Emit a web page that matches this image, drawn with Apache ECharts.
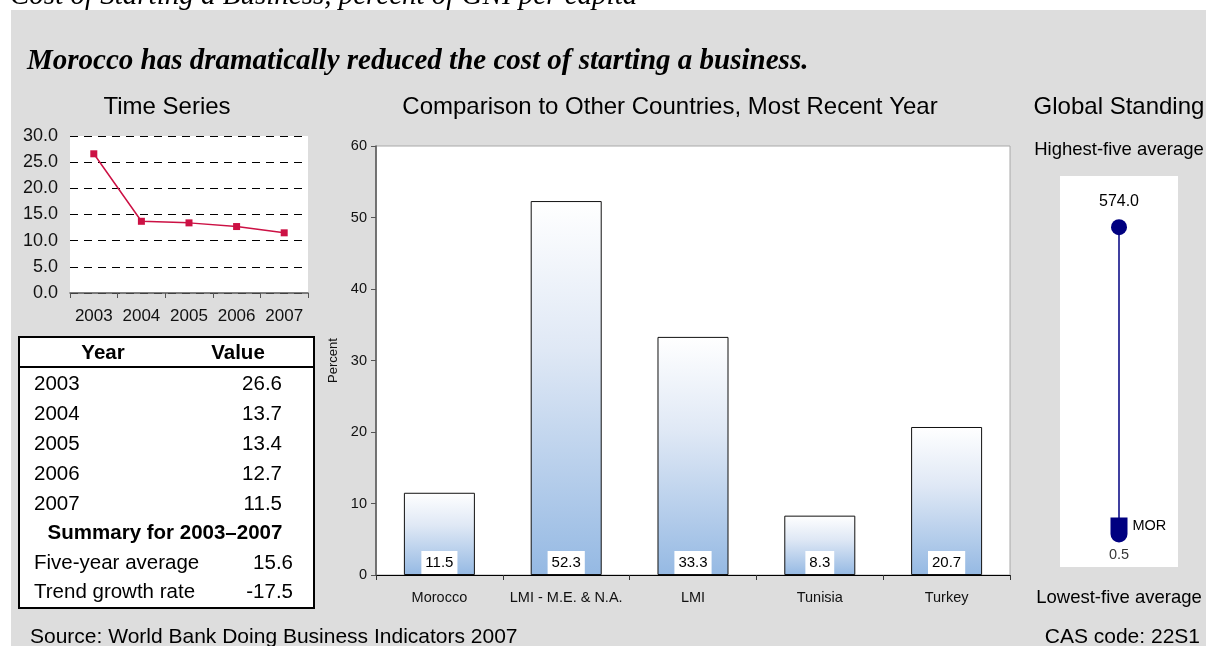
<!DOCTYPE html>
<html>
<head>
<meta charset="utf-8">
<script src="https://cdn.jsdelivr.net/npm/echarts@6/dist/echarts.min.js"></script>
<style>
  html, body { margin: 0; padding: 0; background: #ffffff; }
  #chart { width: 1206px; height: 646px; }
</style>
</head>
<body>
<div id="chart"></div>
<script>
// Time series: cost of starting a business, percent of GNI per capita
const years = ['2003', '2004', '2005', '2006', '2007'];
const costValues = [26.6, 13.7, 13.4, 12.7, 11.5];
const timeTicks = [0, 5, 10, 15, 20, 25, 30];

// Summary rows
const summaryLabels = ['Five-year average', 'Trend growth rate'];
const summaryValues = [15.6, -17.5];

// Comparison, most recent year
const countries = ['Morocco', 'LMI - M.E. & N.A.', 'LMI', 'Tunisia', 'Turkey'];
const countryValues = [11.5, 52.3, 33.3, 8.3, 20.7];

// Global standing
const highestFive = 574.0;
const lowestFive = 0.5;
const moroccoStanding = 11.5;
const moroccoCode = 'MOR';

const SANS = '"Liberation Sans", Arial, sans-serif';
const SERIF = '"Liberation Serif", "Times New Roman", serif';
const NAVY = '#000080';

const chart = echarts.init(document.getElementById('chart'));

// Table rows built from the arrays above
const tableGraphics = [];
const TF = '20.5px ' + SANS;
const TFB = 'bold 20.5px ' + SANS;
tableGraphics.push({ type: 'rect', shape: { x: 19, y: 337, width: 295, height: 271 },
  style: { fill: '#ffffff', stroke: '#000', lineWidth: 2 }, z: 10 });
tableGraphics.push({ type: 'line', shape: { x1: 19, y1: 367, x2: 314, y2: 367 },
  style: { stroke: '#000', lineWidth: 2 }, z: 11 });
tableGraphics.push({ type: 'text', x: 103, y: 353, z: 11,
  style: { text: 'Year', font: TFB, fill: '#000', align: 'center', verticalAlign: 'middle' } });
tableGraphics.push({ type: 'text', x: 238, y: 353, z: 11,
  style: { text: 'Value', font: TFB, fill: '#000', align: 'center', verticalAlign: 'middle' } });
years.forEach((yr, i) => {
  const y = 384 + i * 30;
  tableGraphics.push({ type: 'text', x: 34, y: y, z: 11,
    style: { text: yr, font: TF, fill: '#000', align: 'left', verticalAlign: 'middle' } });
  tableGraphics.push({ type: 'text', x: 282, y: y, z: 11,
    style: { text: costValues[i].toFixed(1), font: TF, fill: '#000', align: 'right', verticalAlign: 'middle' } });
});
tableGraphics.push({ type: 'text', x: 165, y: 533, z: 11,
  style: { text: 'Summary for ' + years[0] + '\u2013' + years[years.length - 1], font: TFB, fill: '#000', align: 'center', verticalAlign: 'middle' } });
summaryLabels.forEach((lab, i) => {
  const y = 563 + i * 29;
  tableGraphics.push({ type: 'text', x: 34, y: y, z: 11,
    style: { text: lab, font: TF, fill: '#000', align: 'left', verticalAlign: 'middle' } });
  tableGraphics.push({ type: 'text', x: 293, y: y, z: 11,
    style: { text: summaryValues[i].toFixed(1), font: TF, fill: '#000', align: 'right', verticalAlign: 'middle' } });
});

const option = {
  animation: false,
  backgroundColor: '#ffffff',
  graphic: [
    { type: 'text', x: 10, y: -4, z: -110,
      style: { text: 'Cost of Starting a Business, percent of GNI per capita', font: 'italic 29px ' + SERIF, fill: '#000', verticalAlign: 'middle' } },
    { type: 'rect', shape: { x: 11, y: 10, width: 1195, height: 636 }, style: { fill: '#dddddd' }, z: -100 },
    { type: 'text', x: 27, y: 62, z: 5,
      style: { text: 'Morocco has dramatically reduced the cost of starting a business.', font: 'bold italic 29px ' + SERIF, fill: '#000', verticalAlign: 'middle' } },
    { type: 'text', x: 167, y: 107, z: 5,
      style: { text: 'Time Series', font: '24px ' + SANS, fill: '#000', align: 'center', verticalAlign: 'middle' } },
    { type: 'text', x: 670, y: 107, z: 5,
      style: { text: 'Comparison to Other Countries, Most Recent Year', font: '24px ' + SANS, fill: '#000', align: 'center', verticalAlign: 'middle' } },
    { type: 'text', x: 1119, y: 107, z: 5,
      style: { text: 'Global Standing', font: '24px ' + SANS, fill: '#000', align: 'center', verticalAlign: 'middle' } },
    { type: 'text', x: 1119, y: 150, z: 5,
      style: { text: 'Highest-five average', font: '18.5px ' + SANS, fill: '#000', align: 'center', verticalAlign: 'middle' } },
    { type: 'text', x: 1119, y: 598, z: 5,
      style: { text: 'Lowest-five average', font: '18.5px ' + SANS, fill: '#000', align: 'center', verticalAlign: 'middle' } },
    { type: 'text', x: 30, y: 637, z: 5,
      style: { text: 'Source: World Bank Doing Business Indicators 2007', font: '21px ' + SANS, fill: '#000', verticalAlign: 'middle' } },
    { type: 'text', x: 1200, y: 637, z: 5,
      style: { text: 'CAS code: 22S1', font: '21px ' + SANS, fill: '#000', align: 'right', verticalAlign: 'middle' } }
  ].concat(tableGraphics),
  grid: [
    { left: 70, right: 898, top: 136, bottom: 353, show: true, backgroundColor: '#ffffff', borderWidth: 0, containLabel: false },
    { left: 376, right: 196, top: 146, bottom: 71, show: true, backgroundColor: '#ffffff', borderColor: '#a8a8a8', borderWidth: 1, containLabel: false },
    { left: 1060, width: 118, top: 176, height: 391, show: true, backgroundColor: '#ffffff', borderWidth: 0, containLabel: false }
  ],
  xAxis: [
    { type: 'category', gridIndex: 0, data: years, boundaryGap: true,
      axisLine: { lineStyle: { color: '#555', width: 1.5 } },
      axisTick: { show: true, length: 5, lineStyle: { color: '#555' } },
      axisLabel: { fontFamily: SANS, fontSize: 17, color: '#111', margin: 15, interval: 0 } },
    { type: 'category', gridIndex: 1, data: countries, boundaryGap: true,
      axisLine: { lineStyle: { color: '#000', width: 1 } },
      axisTick: { show: true, length: 5, lineStyle: { color: '#333' } },
      axisLabel: { fontFamily: SANS, fontSize: 14.5, color: '#111', margin: 15, interval: 0, hideOverlap: false } },
    { type: 'value', gridIndex: 2, min: -1, max: 1, show: false }
  ],
  yAxis: [
    { type: 'value', gridIndex: 0, min: timeTicks[0], max: timeTicks[timeTicks.length - 1], interval: 5,
      axisLine: { show: false }, axisTick: { show: false },
      axisLabel: { fontFamily: SANS, fontSize: 18, color: '#111', margin: 12, formatter: v => v.toFixed(1) },
      splitLine: { lineStyle: { color: '#000', type: [8, 6], width: 1 } } },
    { type: 'value', gridIndex: 1, min: 0, max: 60, interval: 10,
      name: 'Percent', nameLocation: 'middle', nameGap: 34, nameRotate: 90,
      nameTextStyle: { fontFamily: SANS, fontSize: 13, color: '#111' },
      axisLine: { show: true, lineStyle: { color: '#555', width: 1.5 } },
      axisTick: { show: true, length: 5, lineStyle: { color: '#555' } },
      axisLabel: { fontFamily: SANS, fontSize: 14.5, color: '#111', margin: 9 },
      splitLine: { show: false } },
    { type: 'value', gridIndex: 2, min: -57, max: 669, show: false }
  ],
  series: [
    { type: 'line', xAxisIndex: 0, yAxisIndex: 0, data: costValues,
      symbol: 'rect', symbolSize: 7,
      lineStyle: { color: '#cc1144', width: 1.5 },
      itemStyle: { color: '#cc1144' } },
    { type: 'bar', xAxisIndex: 1, yAxisIndex: 1, data: countryValues, barWidth: '56%',
      itemStyle: {
        color: new echarts.graphic.LinearGradient(0, 0, 0, 1, [
          { offset: 0, color: '#ffffff' },
          { offset: 0.4, color: '#dfe8f5' },
          { offset: 1, color: '#95b9e3' }
        ]),
        borderColor: '#111', borderWidth: 1
      },
      label: { show: true, position: 'insideBottom', distance: 1,
        fontFamily: SANS, fontSize: 15, color: '#000',
        backgroundColor: '#ffffff', padding: [4, 4, 4, 4],
        formatter: p => p.value.toFixed(1) } },
    { type: 'line', xAxisIndex: 2, yAxisIndex: 2,
      data: [[0, highestFive], [0, lowestFive]], symbol: 'none',
      lineStyle: { color: NAVY, width: 1.5 } },
    { type: 'scatter', xAxisIndex: 2, yAxisIndex: 2,
      data: [[0, highestFive]], symbol: 'circle', symbolSize: 16,
      itemStyle: { color: NAVY, opacity: 1 },
      label: { show: true, position: 'top', distance: 10, fontFamily: SANS, fontSize: 16, color: '#000',
        formatter: p => p.value[1].toFixed(1) } },
    { type: 'scatter', xAxisIndex: 2, yAxisIndex: 2,
      data: [[0, moroccoStanding]],
      symbol: 'path://M0,0 L17,0 L17,16.5 A8.5,8.5 0 0 1 0,16.5 Z', symbolSize: [17, 25],
      itemStyle: { color: NAVY, opacity: 1 },
      label: { show: true, position: 'right', distance: 5, offset: [0, -4], fontFamily: SANS, fontSize: 14.5, color: '#000',
        formatter: () => moroccoCode }, z: 5 },
    { type: 'scatter', xAxisIndex: 2, yAxisIndex: 2,
      data: [[0, lowestFive]], symbolSize: 0,
      label: { show: true, position: 'bottom', distance: 11, fontFamily: SANS, fontSize: 14.5, color: '#000',
        formatter: p => p.value[1].toFixed(1) } }
  ]
};

chart.setOption(option);
</script>
</body>
</html>
